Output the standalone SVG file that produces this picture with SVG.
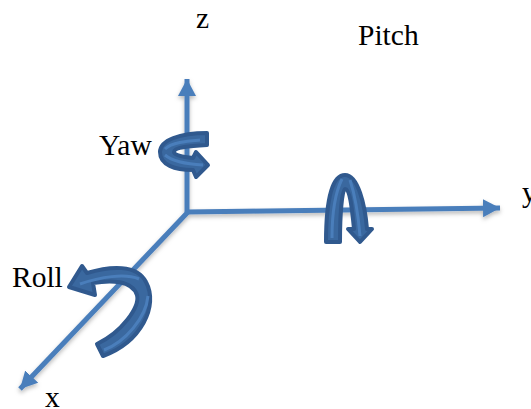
<svg xmlns="http://www.w3.org/2000/svg" width="531" height="409" viewBox="0 0 531 409">
<defs>
<filter id="sh" x="-20%" y="-20%" width="140%" height="140%"><feDropShadow dx="0" dy="2.5" stdDeviation="2" flood-color="#000" flood-opacity="0.28"/></filter>
<marker id="ah" markerUnits="userSpaceOnUse" markerWidth="20" markerHeight="20" refX="17" refY="10" orient="auto"><path d="M0 1L17 10L0 19Z" fill="#4a7ebb"/></marker>
</defs>
<style>
.axis{fill:none;stroke:#4a7ebb;stroke-width:5;marker-end:url(#ah)}
.rib{fill:#3a689f;stroke:#30598e;stroke-width:4;stroke-linejoin:round}
.hi{fill:none;stroke:#4a7ebb;stroke-width:3}
text{font-family:"Liberation Serif","Times New Roman",serif;font-size:29.5px;fill:#000}
</style>
<g id="connectors" filter="url(#sh)">
<path class="axis" d="M187 212V79"/>
<path class="axis" d="M186 212L500 208"/>
<path class="axis" d="M188 212L20 389"/>
</g>
<g id="yaw">
<path class="rib" d="M207 133V145C190 146 174 147 174 152C174 155 182 157 193 158L196 152L208 165L196 177L193 170C175 170 160 165 160 152C160 140 180 133 207 133Z"/>
<path class="hi" d="M165 149C172 142 188 141 200 140"/>
<path class="hi" d="M165 155C172 161 185 164 203 165"/>
</g>
<g id="pitch">
<path class="rib" d="M326 242C326 208 330 175 345 175C358 175 365 205 367 229H372L360 242L348 229H354C352 208 350 189 345 189C342 189 340 215 340 242Z"/>
<path class="hi" d="M332 238C332 215 335 193 342 179"/>
<path class="hi" d="M350 180C355 195 358 212 360 236"/>
</g>
<g id="roll">
<path class="rib" d="M69 287L82 266L87 273C110 266 137 264 146 282C159 306 141 342 103 356L97 344C122 332 140 307 137 295C132 280 110 280 93 283L95 295Z"/>
<path class="hi" d="M80 284C100 277 125 273 139 279"/>
<path class="hi" d="M104 350C125 342 146 318 148 296"/>
</g>
<text id="z" x="196" y="28">z</text>
<text id="pitch-label" x="358" y="45">Pitch</text>
<text id="yaw-label" x="99" y="155">Yaw</text>
<text id="y" x="522" y="202">y</text>
<text id="roll-label" x="12" y="287">Roll</text>
<text id="x" x="45" y="407">x</text>
</svg>
